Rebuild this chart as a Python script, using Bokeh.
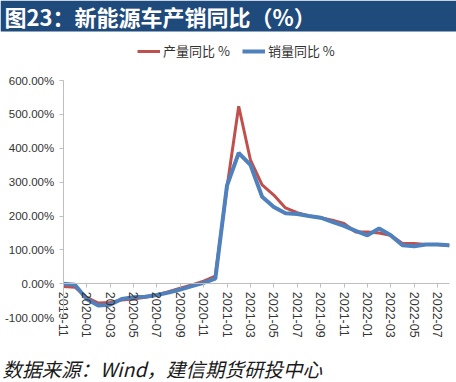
from bokeh.plotting import figure
from bokeh.models import FixedTicker, Label, BoxAnnotation, Legend, LegendItem, Range1d
from bokeh.embed import file_html
from bokeh.resources import INLINE

months = ["2019-11", "2019-12", "2020-01", "2020-02", "2020-03", "2020-04", "2020-05",
          "2020-06", "2020-07", "2020-08", "2020-09", "2020-10", "2020-11", "2020-12",
          "2021-01", "2021-02", "2021-03", "2021-04", "2021-05", "2021-06", "2021-07",
          "2021-08", "2021-09", "2021-10", "2021-11", "2021-12", "2022-01", "2022-02",
          "2022-03", "2022-04", "2022-05", "2022-06", "2022-07", "2022-08"]
prod_yoy = [-8, -10, -40, -57, -55, -48, -45, -40, -33, -23, -13, -3, 8, 23,
            285, 524, 366, 292, 262, 224, 210, 200, 195, 188, 178, 153, 153, 150,
            143, 119, 119, 116, 116, 112]
sales_yoy = [0, -3, -45, -64, -62, -45, -40, -38, -33, -26, -17, -7, 3, 15,
             290, 386, 351, 257, 227, 208, 206, 200, 195, 183, 171, 156, 143, 163,
             143, 114, 111, 116, 116, 114]
y_ticks = [-100, 0, 100, 200, 300, 400, 500, 600]
x_tick_idx = list(range(0, len(months), 2))

title_text = "图23：新能源车产销同比（%）"
legend_labels = ["产量同比 %", "销量同比 %"]
source_text = "数据来源：Wind，建信期货研投中心"

W, H = 456, 382
# layout: pixel position of first month / zero line and pixel steps
X0, DX = 62.7, 11.7          # px of first month, px per month
Y0, DY = 283.3, 33.88        # px of 0 %, px per 100 %


def fx(px):
    return (px - X0) / DX


def fy(py):
    return (Y0 - py) / DY * 100


p = figure(width=W, height=H, output_backend="svg", toolbar_location=None,
           x_range=Range1d(fx(0), fx(W)), y_range=Range1d(fy(H), fy(0)),
           min_border=0)
p.outline_line_color = None
p.xgrid.visible = False
p.ygrid.visible = False
p.background_fill_color = "white"
p.border_fill_color = "white"

# title bar
p.add_layout(BoxAnnotation(left=fx(0), right=fx(W), bottom=fy(31), top=fy(0),
                           fill_color="#1F4A7C", fill_alpha=1, line_color=None))
p.add_layout(Label(x=fx(4), y=fy(15), text=title_text, text_color="white",
                   text_font="Noto Sans CJK SC", text_font_style="bold",
                   text_font_size="22px", text_baseline="middle"))

xs = list(range(len(months)))
r1 = p.line(xs, prod_yoy, line_color="#C0504D", line_width=3)
r2 = p.line(xs, sales_yoy, line_color="#4F81BD", line_width=4)

# axes
p.yaxis.fixed_location = 0
p.yaxis.bounds = (y_ticks[0], y_ticks[-1])
p.yaxis.ticker = FixedTicker(ticks=y_ticks)
p.yaxis.major_label_overrides = {v: f"{v:.2f}%" for v in y_ticks}
p.yaxis.axis_line_color = "#BFBFBF"
p.yaxis.major_tick_line_color = "#BFBFBF"
p.yaxis.major_tick_out = 4
p.yaxis.major_tick_in = 0
p.yaxis.minor_tick_line_color = None
p.yaxis.major_label_standoff = 5
p.yaxis.major_label_text_font = "Liberation Sans"
p.yaxis.major_label_text_font_size = "11.5px"
p.yaxis.major_label_text_color = "#333333"

p.xaxis.fixed_location = 0
p.xaxis.bounds = (0, len(months) - 1)
p.xaxis.ticker = FixedTicker(ticks=x_tick_idx)
p.xaxis.major_label_overrides = {i: months[i] for i in x_tick_idx}
p.xaxis.major_label_orientation = "vertical"
p.xaxis.axis_line_color = "#BFBFBF"
p.xaxis.major_tick_line_color = "#BFBFBF"
p.xaxis.major_tick_out = 4
p.xaxis.major_tick_in = 0
p.xaxis.minor_tick_line_color = None
p.xaxis.major_label_standoff = 4
p.xaxis.major_label_text_font = "Liberation Sans"
p.xaxis.major_label_text_font_size = "12.5px"
p.xaxis.major_label_text_color = "#333333"

legend = Legend(items=[LegendItem(label=legend_labels[0], renderers=[r1]),
                       LegendItem(label=legend_labels[1], renderers=[r2])],
                location=(137, H - 60), orientation="horizontal",
                glyph_width=23, glyph_height=16, label_height=16, label_standoff=3,
                spacing=12, padding=0, margin=0, border_line_color=None,
                background_fill_alpha=0, label_text_font="Noto Sans CJK SC",
                label_text_font_size="13px", label_text_color="#333333")
p.add_layout(legend, "center")

p.add_layout(Label(x=fx(2), y=fy(368), text=source_text, text_color="#1a1a1a",
                   text_font="Noto Sans CJK SC", text_font_style="italic",
                   text_font_size="19.5px", text_baseline="middle"))

open("out.html", "w").write(file_html(p, INLINE))
